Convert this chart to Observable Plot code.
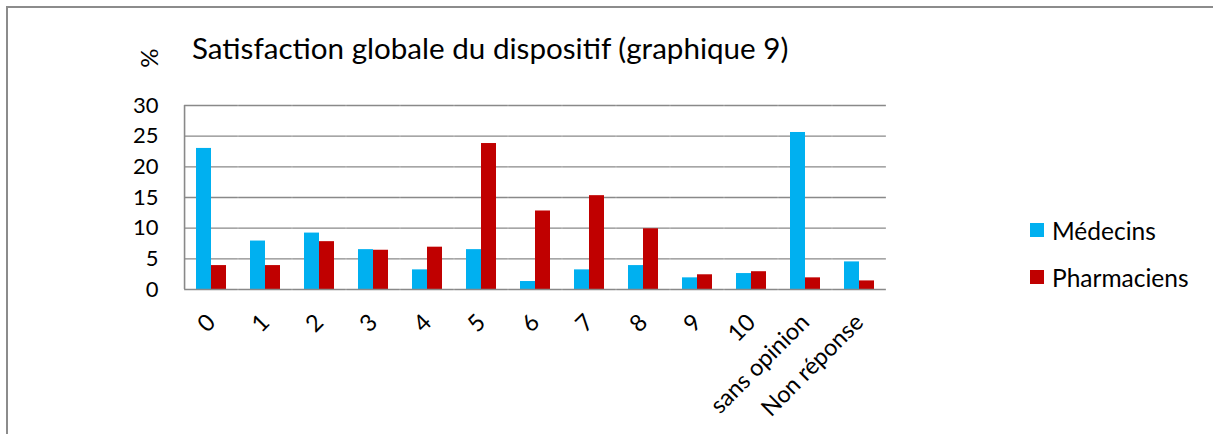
<!DOCTYPE html>
<html><head><meta charset="utf-8">
<script src="https://cdn.jsdelivr.net/npm/d3@7"></script>
<script src="https://cdn.jsdelivr.net/npm/@observablehq/plot@0.6"></script>
<style>
html,body{margin:0;padding:0;background:#fff;}
#chart{position:relative;width:1213px;height:434px;overflow:hidden;font-family:Lato,sans-serif;color:#000;}
#border{position:absolute;left:6px;top:6px;width:1300px;height:600px;border:2px solid #8c8c8c;box-sizing:border-box;}
#title{position:absolute;left:192px;top:33px;font-size:29.6px;line-height:29px;white-space:nowrap;}
#unit{position:absolute;left:134px;top:43px;width:30px;height:30px;line-height:30px;text-align:center;font-size:24px;transform:rotate(-90deg);}
#plot{position:absolute;left:0;top:90px;}
#legend{position:absolute;left:1030px;top:220px;font-size:24.5px;}
.row{display:flex;align-items:center;height:20px;margin-bottom:27px;white-space:nowrap;}
.sw{width:14px;height:14px;margin-right:8px;flex:none;}
</style>
</head><body>
<div id="chart">
  <div id="border"></div>
  <div id="unit">%</div>
  <div id="title">Satisfaction globale du dispositif (graphique 9)</div>
  <div id="plot"></div>
  <div id="legend"></div>
</div>
<script>
const categories = ["0","1","2","3","4","5","6","7","8","9","10","sans opinion","Non réponse"];
const series = ["Médecins","Pharmaciens"];
const medecins = [23, 7.9, 9.2, 6.5, 3.2, 6.5, 1.3, 3.2, 3.9, 1.9, 2.6, 25.6, 4.5];
const pharmaciens = [3.9, 3.9, 7.8, 6.4, 6.9, 23.8, 12.8, 15.3, 9.9, 2.4, 2.9, 1.9, 1.4];
const colors = ["#00B0F0", "#C00000"];
const yTicks = [0, 5, 10, 15, 20, 25, 30];

const rows = categories.flatMap((c, i) => [
  {cat: c, s: series[0], v: medecins[i]},
  {cat: c, s: series[1], v: pharmaciens[i]}
]);

const W = 1213, H = 344, mL = 184, mR = 327, mT = 15, mB = 145;
const padInner = 0.44, padOuter = 0.22;
const step = (W - mL - mR) / (categories.length - padInner + 2 * padOuter);
const ext = step * padOuter;                 // lets rules span the whole frame across facet gaps
const bandW = step * (1 - padInner) / series.length;
const gridColor = "#898989";

const chart = Plot.plot({
  width: W, height: H,
  marginLeft: mL, marginRight: mR, marginTop: mT, marginBottom: mB,
  style: {fontFamily: "Lato, sans-serif", fontSize: "22px", color: "#000", background: "transparent", overflow: "visible"},
  fx: {domain: categories, paddingInner: padInner, paddingOuter: padOuter, label: null},
  x: {domain: series, padding: 0, axis: null},
  y: {domain: [0, 30], label: null},
  color: {domain: series, range: colors},
  marks: [
    Plot.ruleY(yTicks.filter(t => t > 0), {stroke: gridColor, strokeWidth: 1.3, insetLeft: -ext, insetRight: -ext}),
    Plot.barY(rows, {fx: "cat", x: "s", y: "v", fill: "s"}),
    Plot.ruleY([0], {stroke: gridColor, strokeWidth: 1.6, insetLeft: -ext, insetRight: -ext}),
    Plot.ruleX([series[0]], {fx: [categories[0]], x: d => d, y1: 0, y2: 30, dx: -(bandW / 2 + ext), stroke: gridColor, strokeWidth: 1.6}),
    Plot.axisY(yTicks, {tickSize: 0, tickPadding: 26 + ext, label: null, fontSize: 22}),
    Plot.axisFx({anchor: "bottom", tickRotate: -45, tickSize: 0, tickPadding: 29, label: null, fontSize: 23.5})
  ]
});
document.getElementById("plot").appendChild(chart);

const legend = document.getElementById("legend");
series.forEach((s, i) => {
  const row = document.createElement("div");
  row.className = "row";
  const sw = document.createElement("span");
  sw.className = "sw";
  sw.style.background = colors[i];
  const t = document.createElement("span");
  t.textContent = s;
  row.appendChild(sw); row.appendChild(t);
  legend.appendChild(row);
});
</script>
</body></html>
